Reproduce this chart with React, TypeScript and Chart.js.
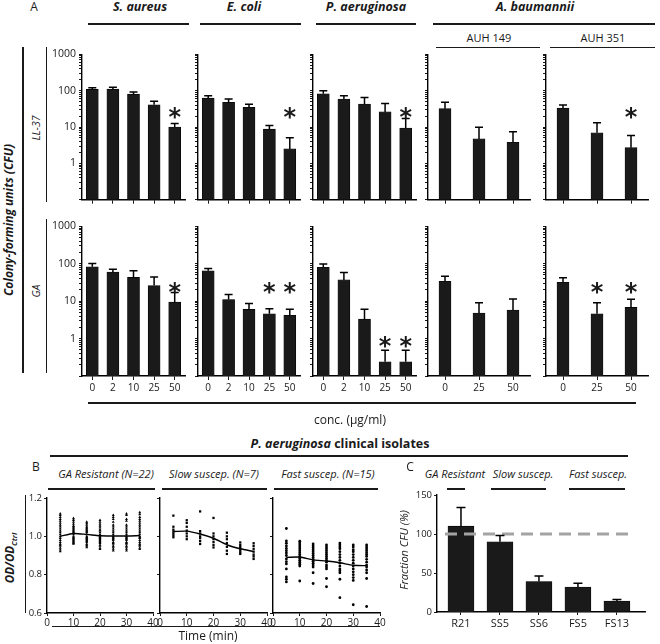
import React, { useEffect, useRef } from "react";
import { Chart, registerables } from "chart.js";
Chart.register(...registerables);

const FONT = '"Open Sans", "Noto Sans", Arial, sans-serif';
const INK = "#1a1a1a";

// ---------------- Panel A data ----------------
const concFull = ["0", "2", "10", "25", "50"];
const concShort = ["0", "25", "50"];
const logMajorTicks = [1, 10, 100, 1000];

const saureusLL37 = [108, 110, 80, 41, 10];
const saureusLL37Err = [120, 125, 92, 51, 12.5];
const saureusLL37Star = [null, null, null, null, 25];

const ecoliLL37 = [62, 48, 35, 8.7, 2.5];
const ecoliLL37Err = [72, 59, 42, 11, 5.1];
const ecoliLL37Star = [null, null, null, null, 25];

const paerugLL37 = [82, 59, 43, 26, 9.4];
const paerugLL37Err = [100, 72, 65, 44, 17];
const paerugLL37Star = [null, null, null, null, 25];

const auh149LL37 = [32, 4.7, 3.8];
const auh149LL37Err = [48, 9.8, 7.4];
const auh149LL37Star = [null, null, null];

const auh351LL37 = [33, 6.9, 2.7];
const auh351LL37Err = [40, 13, 5.8];
const auh351LL37Star = [null, null, 25];

const saureusGA = [83, 60, 43, 26, 9.4];
const saureusGAErr = [102, 71, 65, 44, 17];
const saureusGAStar = [null, null, null, null, 23];

const ecoliGA = [65, 11, 6, 4.6, 4.2];
const ecoliGAErr = [75, 15, 8.7, 6.3, 6.1];
const ecoliGAStar = [null, null, null, 23, 23];

const paerugGA = [80, 37, 3.3, 0.24, 0.24];
const paerugGAErr = [99, 58, 6.1, 0.49, 0.49];
const paerugGAStar = [null, null, null, 0.81, 0.81];

const auh149GA = [34, 4.8, 5.8];
const auh149GAErr = [46, 9, 11.5];
const auh149GAStar = [null, null, null];

const auh351GA = [32, 4.6, 6.8];
const auh351GAErr = [42, 9, 11.3];
const auh351GAStar = [null, 23, 23];

// ---------------- Panel B data ----------------
const timePoints = [5, 10, 15, 20, 25, 30, 35];
const timeTicks = [0, 10, 20, 30, 40];
const odTicks = [0.6, 0.8, 1.0, 1.2];

const resistantPoints = [
  [1.118, 1.11, 1.1, 1.09, 1.08, 1.07, 1.06, 1.05, 1.04, 1.03, 1.02, 1.01, 1.0, 0.99, 0.98, 0.97, 0.96, 0.955, 0.95, 0.94, 0.93, 0.921],
  [1.094, 1.085, 1.075, 1.065, 1.055, 1.05, 1.045, 1.04, 1.035, 1.03, 1.025, 1.02, 1.01, 1.0, 0.995, 0.99, 0.985, 0.98, 0.975, 0.97, 0.965, 0.96],
  [1.075, 1.068, 1.06, 1.05, 1.045, 1.04, 1.035, 1.03, 1.025, 1.02, 1.01, 1.0, 0.995, 0.99, 0.985, 0.98, 0.975, 0.97, 0.96, 0.955, 0.95, 0.942],
  [1.084, 1.075, 1.065, 1.055, 1.045, 1.035, 1.03, 1.02, 1.01, 1.005, 1.0, 0.995, 0.99, 0.985, 0.98, 0.975, 0.97, 0.965, 0.955, 0.95, 0.94, 0.933],
  [1.11, 1.1, 1.09, 1.075, 1.06, 1.05, 1.04, 1.03, 1.02, 1.01, 1.0, 0.995, 0.99, 0.985, 0.98, 0.97, 0.965, 0.96, 0.95, 0.945, 0.935, 0.925],
  [1.118, 1.11, 1.09, 1.08, 1.06, 1.05, 1.04, 1.03, 1.02, 1.01, 1.0, 0.995, 0.99, 0.985, 0.98, 0.97, 0.965, 0.96, 0.95, 0.945, 0.935, 0.925],
  [1.125, 1.115, 1.1, 1.09, 1.08, 1.07, 1.06, 1.05, 1.04, 1.03, 1.02, 1.01, 1.0, 0.995, 0.99, 0.98, 0.97, 0.96, 0.955, 0.95, 0.94, 0.933],
];
const resistantMean = [1.0, 1.015, 1.01, 1.003, 1.002, 1.002, 1.004];

const slowPoints = [
  [1.108, 1.05, 1.035, 1.025, 1.015, 1.005, 0.995],
  [1.084, 1.07, 1.05, 1.03, 1.015, 1.0, 0.985],
  [1.13, 1.027, 1.015, 1.0, 0.99, 0.975, 0.96],
  [1.096, 1.015, 1.0, 0.985, 0.97, 0.955, 0.942],
  [1.019, 1.0, 0.985, 0.965, 0.945, 0.925, 0.908],
  [0.968, 0.955, 0.945, 0.935, 0.925, 0.915, 0.908],
  [0.964, 0.95, 0.935, 0.92, 0.905, 0.895, 0.882],
];
const slowMean = [1.025, 1.027, 1.012, 0.99, 0.956, 0.935, 0.921];

const fastPoints = [
  [1.041, 0.976, 0.964, 0.95, 0.937, 0.925, 0.913, 0.9, 0.882, 0.868, 0.856, 0.83, 0.788, 0.776, 0.762],
  [0.975, 0.965, 0.955, 0.945, 0.935, 0.925, 0.915, 0.905, 0.895, 0.885, 0.875, 0.865, 0.855, 0.845, 0.767],
  [0.96, 0.95, 0.94, 0.93, 0.92, 0.91, 0.9, 0.89, 0.88, 0.87, 0.86, 0.85, 0.84, 0.81, 0.754],
  [0.955, 0.945, 0.935, 0.925, 0.915, 0.905, 0.895, 0.885, 0.875, 0.865, 0.85, 0.84, 0.83, 0.78, 0.737],
  [0.965, 0.955, 0.945, 0.935, 0.92, 0.905, 0.89, 0.875, 0.86, 0.845, 0.83, 0.82, 0.81, 0.776, 0.68],
  [0.955, 0.945, 0.93, 0.92, 0.905, 0.89, 0.875, 0.86, 0.845, 0.83, 0.815, 0.8, 0.785, 0.77, 0.643],
  [0.955, 0.945, 0.935, 0.925, 0.915, 0.905, 0.895, 0.88, 0.865, 0.85, 0.84, 0.825, 0.81, 0.78, 0.634],
];
const fastMean = [0.89, 0.892, 0.877, 0.871, 0.862, 0.849, 0.847];

// ---------------- Panel C data ----------------
const isolates = ["R21", "SS5", "SS6", "FS5", "FS13"];
const fractionCFU = [110, 90, 39, 32, 14];
const fractionCFUErr = [134, 98, 46, 37, 16];
const fractionTicks = [0, 50, 100, 150];
const fractionRef = 100;

// log tick positions (1..9 per decade)
const logTickValues: number[] = [];
[0.1, 1, 10, 100].forEach((d) => {
  for (let k = 1; k <= 9; k++) logTickValues.push(+(k * d).toPrecision(3));
});
logTickValues.push(1000);

// ---------------- plugin: error bars, stars, reference line ----------------
const errPlugin = {
  id: "errbars",
  afterDatasetsDraw(chart: any, _args: any, opts: any) {
    const { ctx } = chart;
    const meta = chart.getDatasetMeta(0);
    const ys = chart.scales.y;
    const xs = chart.scales.x;
    ctx.save();
    if (opts.ref) {
      const yr = ys.getPixelForValue(opts.ref.value);
      ctx.strokeStyle = "#a3a3a3";
      ctx.lineWidth = 3;
      ctx.setLineDash([12, 7]);
      ctx.beginPath();
      ctx.moveTo(xs.getPixelForValue(opts.ref.from), yr);
      ctx.lineTo(xs.getPixelForValue(opts.ref.to), yr);
      ctx.stroke();
      ctx.setLineDash([]);
    }
    ctx.strokeStyle = "#000";
    ctx.lineWidth = 1.5;
    meta.data.forEach((bar: any, i: number) => {
      const t = opts.tops ? opts.tops[i] : null;
      if (t != null) {
        const yt = ys.getPixelForValue(t);
        ctx.beginPath();
        ctx.moveTo(bar.x, bar.y);
        ctx.lineTo(bar.x, yt);
        ctx.moveTo(bar.x - opts.cap, yt);
        ctx.lineTo(bar.x + opts.cap, yt);
        ctx.stroke();
      }
      const s = opts.stars ? opts.stars[i] : null;
      if (s != null) {
        ctx.fillStyle = INK;
        ctx.font = `bold ${opts.starSize}px "DejaVu Sans", sans-serif`;
        ctx.textAlign = "center";
        ctx.textBaseline = "alphabetic";
        const m = ctx.measureText("*");
        const off = (m.actualBoundingBoxAscent - m.actualBoundingBoxDescent) / 2;
        ctx.fillText("*", bar.x, ys.getPixelForValue(s) + off);
      }
    });
    ctx.restore();
  },
};

const axisGrid = (len: number) => ({
  display: true,
  drawOnChartArea: false,
  drawTicks: true,
  tickLength: len,
  color: "#000",
  lineWidth: 0.9,
  offset: false,
});
const axisBorder = { display: true, color: "#000", width: 1.4 };

function logBar(labels: string[], values: number[], tops: number[], stars: (number | null)[], showY: boolean, showX: boolean) {
  return () => ({
    type: "bar",
    data: {
      labels,
      datasets: [{ data: values, backgroundColor: INK, borderColor: "#000", borderWidth: 0.6, barThickness: 12 }],
    },
    options: {
      animation: false,
      responsive: false,
      devicePixelRatio: 1,
      plugins: {
        legend: { display: false },
        tooltip: { enabled: false },
        errbars: { tops, stars, cap: 4, starSize: 24 },
      },
      scales: {
        x: {
          type: "category",
          offset: true,
          grid: axisGrid(4),
          border: axisBorder,
          ticks: {
            color: INK,
            font: { family: FONT, size: 10 },
            padding: 2,
            maxRotation: 0,
            autoSkip: false,
            callback: (_v: any, i: number) => (showX ? labels[i] : ""),
          },
        },
        y: {
          type: "logarithmic",
          min: 0.1,
          max: 1000,
          grid: axisGrid(3),
          border: axisBorder,
          afterBuildTicks: (s: any) => {
            s.ticks = logTickValues.map((v) => ({ value: v }));
          },
          ticks: {
            autoSkip: false,
            color: INK,
            font: { family: FONT, size: 10.5 },
            padding: 3,
            callback: (v: any) => (showY && logMajorTicks.includes(v) ? String(v) : ""),
          },
        },
      },
    },
    plugins: [errPlugin],
  });
}

function scatterPanel(points: number[][], mean: number[], style: string, radius: number, showY: boolean) {
  const pts: { x: number; y: number }[] = [];
  points.forEach((col, i) => col.forEach((v) => pts.push({ x: timePoints[i], y: v })));
  return () => ({
    type: "scatter",
    data: {
      datasets: [
        {
          type: "line",
          data: timePoints.map((t, i) => ({ x: t, y: mean[i] })),
          borderColor: "#000",
          borderWidth: 1.4,
          pointRadius: 0,
          fill: false,
          tension: 0.25,
        },
        {
          data: pts,
          pointStyle: style,
          pointRadius: radius,
          backgroundColor: "#000",
          borderColor: "#000",
          borderWidth: 0,
        },
      ],
    },
    options: {
      animation: false,
      responsive: false,
      devicePixelRatio: 1,
      plugins: { legend: { display: false }, tooltip: { enabled: false } },
      scales: {
        x: {
          type: "linear",
          min: 0,
          max: 40,
          grid: axisGrid(3),
          border: axisBorder,
          afterBuildTicks: (s: any) => {
            s.ticks = timeTicks.map((v) => ({ value: v }));
          },
          ticks: { color: INK, font: { family: FONT, size: 10 }, padding: 1, maxRotation: 0, autoSkip: false },
        },
        y: {
          type: "linear",
          min: 0.6,
          max: 1.2,
          grid: axisGrid(3),
          border: axisBorder,
          afterBuildTicks: (s: any) => {
            s.ticks = odTicks.map((v) => ({ value: v }));
          },
          ticks: {
            color: INK,
            font: { family: FONT, size: 9.5 },
            padding: 2,
            autoSkip: false,
            callback: (v: any) => (showY ? Number(v).toFixed(1) : ""),
          },
        },
      },
    },
  });
}

function fractionPanel() {
  return () => ({
    type: "bar",
    data: {
      datasets: [
        {
          data: isolates.map((_n, i) => ({ x: i, y: fractionCFU[i] })),
          backgroundColor: INK,
          borderColor: "#000",
          borderWidth: 0.6,
          barThickness: 26,
        },
      ],
    },
    options: {
      animation: false,
      responsive: false,
      devicePixelRatio: 1,
      plugins: {
        legend: { display: false },
        tooltip: { enabled: false },
        errbars: { tops: fractionCFUErr, cap: 4.5, ref: { value: fractionRef, from: -0.41, to: 4.38 } },
      },
      scales: {
        x: {
          type: "linear",
          min: -0.615,
          max: 4.72,
          offset: false,
          grid: axisGrid(3),
          border: axisBorder,
          afterBuildTicks: (s: any) => {
            s.ticks = isolates.map((_n, i) => ({ value: i }));
          },
          ticks: {
            color: INK,
            font: { family: FONT, size: 11 },
            padding: 2,
            maxRotation: 0,
            autoSkip: false,
            callback: (v: any) => isolates[v] ?? "",
          },
        },
        y: {
          type: "linear",
          min: 0,
          max: 150,
          grid: axisGrid(3),
          border: axisBorder,
          afterBuildTicks: (s: any) => {
            s.ticks = fractionTicks.map((v) => ({ value: v }));
          },
          ticks: { color: INK, font: { family: FONT, size: 9.5 }, padding: 2, autoSkip: false },
        },
      },
    },
    plugins: [errPlugin],
  });
}

type Geo = { l: number; t: number; r: number; b: number; yW: number; xH: number };

function ChartCanvas({ geo, make }: { geo: Geo; make: () => any }) {
  const ref = useRef<HTMLCanvasElement>(null);
  const padT = 8;
  const padR = 8;
  const w = geo.r - geo.l + geo.yW + padR;
  const h = geo.b - geo.t + padT + geo.xH;
  useEffect(() => {
    const cfg = make();
    cfg.options.layout = { padding: { top: padT, right: padR, left: 0, bottom: 0 } };
    cfg.options.scales.x.afterFit = (s: any) => {
      s.height = geo.xH;
    };
    cfg.options.scales.y.afterFit = (s: any) => {
      s.width = geo.yW;
    };
    const chart = new Chart(ref.current as HTMLCanvasElement, cfg);
    return () => chart.destroy();
  }, []);
  return (
    <canvas
      ref={ref}
      width={w}
      height={h}
      style={{ position: "absolute", left: geo.l - geo.yW, top: geo.t - padT, width: w, height: h }}
    />
  );
}

function T({ x, y, children, size = 12, bold = false, italic = false, rot = false }: any) {
  return (
    <div
      style={{
        position: "absolute",
        left: x,
        top: y,
        transform: `translate(-50%, -50%)${rot ? " rotate(-90deg)" : ""}`,
        whiteSpace: "nowrap",
        fontFamily: FONT,
        fontSize: size,
        fontWeight: bold ? 700 : 400,
        fontStyle: italic ? "italic" : "normal",
        color: INK,
        lineHeight: 1,
      }}
    >
      {children}
    </div>
  );
}

function HL({ x1, x2, y, w = 2 }: any) {
  return <div style={{ position: "absolute", left: x1, top: y - w / 2, width: x2 - x1, height: w, background: INK }} />;
}
function VL({ x, y1, y2, w = 1 }: any) {
  return <div style={{ position: "absolute", left: x - w / 2, top: y1, width: w, height: y2 - y1, background: INK }} />;
}

const colsA = [
  [82, 185],
  [198, 300],
  [313, 416],
  [428, 530],
  [546, 648],
];

export default function App() {
  const row1 = { t: 53, b: 203, xH: 6 };
  const row2 = { t: 225, b: 376, xH: 22 };
  const g = (col: number, row: any): Geo => ({
    l: colsA[col][0],
    r: colsA[col][1],
    t: row.t,
    b: row.b,
    yW: col === 0 ? 36 : 6,
    xH: row.xH,
  });
  return (
    <div style={{ position: "fixed", left: 0, top: 0, width: 660, height: 644, background: "#fff", overflow: "hidden" }}>
      {/* Panel A headers */}
      <T x={34} y={7} size={12}>A</T>
      <T x={140} y={7} size={12.5} bold italic>S. aureus</T>
      <T x={244} y={7} size={12.5} bold italic>E. coli</T>
      <T x={366} y={7} size={12.5} bold italic>P. aeruginosa</T>
      <T x={535} y={7} size={12.5} bold italic>A. baumannii</T>
      <HL x1={88} x2={189} y={24} />
      <HL x1={200} x2={301} y={24} />
      <HL x1={316} x2={416} y={24} />
      <HL x1={433} x2={655} y={24} />
      <T x={489} y={37} size={11}>AUH 149</T>
      <T x={603} y={37} size={11}>AUH 351</T>
      <HL x1={436} x2={540} y={47} w={1} />
      <HL x1={550} x2={655} y={47} w={1} />
      <VL x={23} y1={47} y2={373} w={2} />
      <VL x={46} y1={47} y2={202} w={1} />
      <VL x={46} y1={219} y2={373} w={1} />
      <T x={9} y={220} size={12} bold italic rot>Colony-forming units (CFU)</T>
      <T x={36} y={128} size={10.5} italic rot>LL-37</T>
      <T x={36} y={291} size={10.5} italic rot>GA</T>

      <ChartCanvas geo={g(0, row1)} make={logBar(concFull, saureusLL37, saureusLL37Err, saureusLL37Star, true, false)} />
      <ChartCanvas geo={g(1, row1)} make={logBar(concFull, ecoliLL37, ecoliLL37Err, ecoliLL37Star, false, false)} />
      <ChartCanvas geo={g(2, row1)} make={logBar(concFull, paerugLL37, paerugLL37Err, paerugLL37Star, false, false)} />
      <ChartCanvas geo={g(3, row1)} make={logBar(concShort, auh149LL37, auh149LL37Err, auh149LL37Star, false, false)} />
      <ChartCanvas geo={g(4, row1)} make={logBar(concShort, auh351LL37, auh351LL37Err, auh351LL37Star, false, false)} />

      <ChartCanvas geo={g(0, row2)} make={logBar(concFull, saureusGA, saureusGAErr, saureusGAStar, true, true)} />
      <ChartCanvas geo={g(1, row2)} make={logBar(concFull, ecoliGA, ecoliGAErr, ecoliGAStar, false, true)} />
      <ChartCanvas geo={g(2, row2)} make={logBar(concFull, paerugGA, paerugGAErr, paerugGAStar, false, true)} />
      <ChartCanvas geo={g(3, row2)} make={logBar(concShort, auh149GA, auh149GAErr, auh149GAStar, false, true)} />
      <ChartCanvas geo={g(4, row2)} make={logBar(concShort, auh351GA, auh351GAErr, auh351GAStar, false, true)} />

      <HL x1={88} x2={636} y={403} />
      <T x={350} y={420} size={12}>conc. (μg/ml)</T>

      <T x={340} y={444} size={12.5} bold>
        <span style={{ fontStyle: "italic" }}>P. aeruginosa</span> clinical isolates
      </T>
      <HL x1={50} x2={628} y={456} w={1.5} />

      {/* Panel B */}
      <T x={36} y={467} size={12}>B</T>
      <T x={106} y={473} size={11} italic>GA Resistant (N=22)</T>
      <T x={214} y={473} size={11} italic>Slow suscep. (N=7)</T>
      <T x={328} y={473} size={11} italic>Fast suscep. (N=15)</T>
      <HL x1={48} x2={155} y={489} />
      <HL x1={162} x2={267} y={489} />
      <HL x1={274} x2={378} y={489} />
      <VL x={25} y1={495} y2={613} w={1} />
      <T x={11} y={558} size={11.5} bold italic rot>
        OD/OD<sub style={{ fontSize: 7.5 }}>Ctrl</sub>
      </T>
      <ChartCanvas geo={{ l: 47, r: 153, t: 498, b: 613, yW: 24, xH: 14 }} make={scatterPanel(resistantPoints, resistantMean, "triangle", 1.7, true)} />
      <ChartCanvas geo={{ l: 160, r: 267, t: 498, b: 613, yW: 5, xH: 14 }} make={scatterPanel(slowPoints, slowMean, "rect", 1.6, false)} />
      <ChartCanvas geo={{ l: 273, r: 380, t: 498, b: 613, yW: 5, xH: 14 }} make={scatterPanel(fastPoints, fastMean, "circle", 1.4, false)} />
      <HL x1={52} x2={380} y={626} w={1} />
      <T x={208} y={636} size={12}>Time (min)</T>

      {/* Panel C */}
      <T x={410} y={467} size={12}>C</T>
      <T x={455} y={473} size={11} italic>GA Resistant</T>
      <T x={523} y={473} size={11} italic>Slow suscep.</T>
      <T x={598} y={473} size={11} italic>Fast suscep.</T>
      <HL x1={447} x2={465} y={489} />
      <HL x1={491} x2={546} y={489} />
      <HL x1={569} x2={625} y={489} />
      <T x={403} y={550} size={11} italic rot>Fraction CFU (%)</T>
      <ChartCanvas geo={{ l: 437, r: 645, t: 495, b: 612, yW: 26, xH: 20 }} make={fractionPanel()} />
    </div>
  );
}
